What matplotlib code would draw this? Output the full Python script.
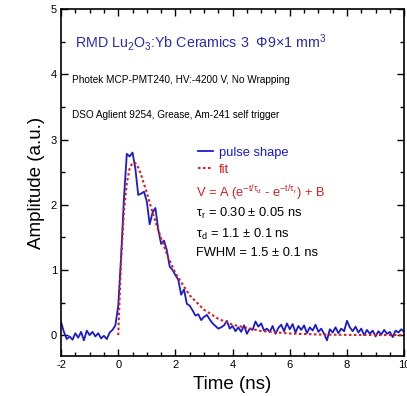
import numpy as np
import matplotlib
matplotlib.use("Agg")
import matplotlib.pyplot as plt
from matplotlib.ticker import MultipleLocator

plt.rcParams['font.family'] = ['Liberation Sans', 'DejaVu Sans']
plt.rcParams['mathtext.fontset'] = 'custom'
plt.rcParams['mathtext.rm'] = 'Liberation Sans'
plt.rcParams['mathtext.it'] = 'Liberation Sans'
plt.rcParams['axes.unicode_minus'] = False

# measured pulse, 0.1 ns steps from -2 to 10 ns
t_pulse = np.round(np.arange(-2.0, 10.01, 0.1), 1)
v_pulse = [0.20, 0.05, -0.06, -0.02, -0.07, 0.03, -0.04, 0.05, -0.08, 0.07,
           0.00, 0.05, -0.02, 0.03, -0.05, -0.01, -0.06, 0.04, 0.08, 0.15,
           0.45, 1.20, 2.10, 2.78, 2.74, 2.80, 2.55, 2.15, 2.17, 2.20,
           2.05, 1.70, 1.88, 1.95, 1.62, 1.40, 1.45, 1.30, 1.05, 1.00,
           0.92, 0.85, 0.62, 0.70, 0.48, 0.45, 0.38, 0.30, 0.32, 0.23,
           0.28, 0.31, 0.24, 0.18, 0.14, 0.10, 0.12, 0.15, 0.22, 0.10,
           0.14, 0.06, 0.12, 0.05, 0.15, 0.02, 0.10, 0.08, 0.21, 0.13,
           0.18, 0.07, 0.10, 0.05, 0.14, 0.02, 0.11, 0.16, 0.06, 0.18,
           0.09, 0.17, 0.04, 0.14, 0.08, 0.15, 0.03, 0.12, 0.07, 0.16,
           0.05, 0.10, 0.02, -0.08, 0.09, 0.04, 0.12, 0.03, 0.10, 0.06,
           0.22, 0.12, 0.06, 0.13, 0.04, 0.10, 0.00, 0.08, 0.02, 0.07,
           -0.02, 0.06, 0.01, 0.08, 0.02, 0.05, -0.03, 0.07, 0.04, 0.09,
           0.05]

# fit curve
t_fit = [0.0, 0.1, 0.2, 0.3, 0.4, 0.5, 0.6, 0.7, 0.8, 1.0, 1.25, 1.5, 1.75,
         2.0, 2.5, 3.0, 3.5, 4.0, 5.0, 6.0, 7.0, 8.0, 9.0, 10.0]
v_fit = [0.0, 1.16, 1.90, 2.33, 2.56, 2.64, 2.64, 2.57, 2.46, 2.18, 1.81, 1.48, 1.19,
         0.95, 0.61, 0.39, 0.25, 0.16, 0.063, 0.025, 0.01, 0.004, 0.002, 0.0]

fig = plt.figure(figsize=(4.07, 3.96), dpi=100)
ax = fig.add_axes([0.150, 0.101, 0.843, 0.876])

ax.plot(t_pulse, v_pulse, color='#1a1ad0', lw=1.3, label='pulse shape')
ax.plot(t_fit, v_fit, color='#d42020', lw=1.5, ls=(0, (1.2, 1.2)), label='fit')

ax.set_xlim(-2, 10)
ax.set_ylim(-0.32, 5)
ax.xaxis.set_major_locator(MultipleLocator(2))
ax.xaxis.set_minor_locator(MultipleLocator(0.5))
ax.yaxis.set_major_locator(MultipleLocator(1))
ax.yaxis.set_minor_locator(MultipleLocator(0.5))
ax.tick_params(which='both', direction='in', top=True, right=True, labelsize=8, pad=3)
ax.tick_params(which='major', length=5, width=1)
ax.tick_params(which='minor', length=3, width=1)
for s in ax.spines.values():
    s.set_linewidth(1.2)

ax.set_xlabel('Time (ns)', fontsize=13.5)
ax.set_ylabel('Amplitude (a.u.)', fontsize=13.5)

ax.text(-1.51, 4.49, r'RMD Lu$_2$O$_3$:Yb Ceramics 3  Φ9×1 mm$^3$',
        color='#2a2ab8', fontsize=10.3, va='center')
ax.text(-1.6, 3.92, 'Photek MCP-PMT240, HV:-4200 V, No Wrapping', fontsize=7.2, va='center')
ax.text(-1.6, 3.38, 'DSO Aglient 9254, Grease, Am-241 self trigger', fontsize=7.2, va='center')

ax.legend(loc='upper left', bbox_to_anchor=(0.38, 0.622), frameon=False, fontsize=9.3,
          handlelength=1.2, handletextpad=0.45, labelspacing=0.4, borderpad=0,
          labelcolor=['#1a1ad0', '#d42020'])

ax.text(2.72, 2.17, r'V = A (e$^{-t/τ_d}$ - e$^{-t/τ_r}$) + B', color='#d42020',
        fontsize=9.3, va='center')
ax.text(2.72, 1.86, r'τ$_r$ = 0.30 ± 0.05 ns', fontsize=9.3, va='center')
ax.text(2.72, 1.54, r'τ$_d$ = 1.1 ± 0.1 ns', fontsize=9.3, va='center')
ax.text(2.72, 1.26, 'FWHM = 1.5 ± 0.1 ns', fontsize=9.3, va='center')

fig.savefig('out.png', dpi=100)
